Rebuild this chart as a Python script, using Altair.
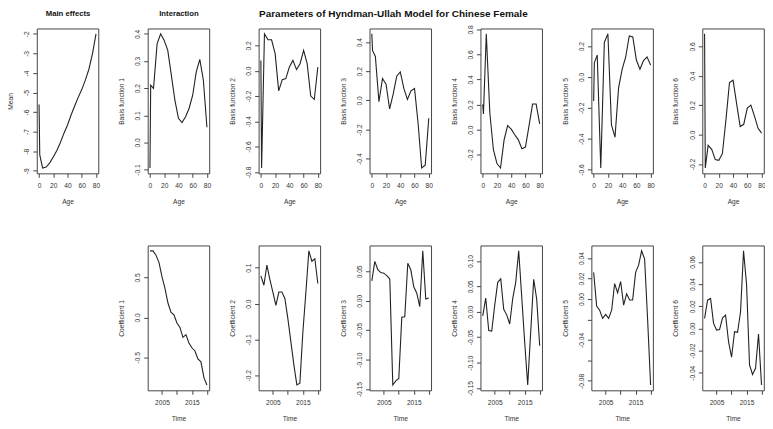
import altair as alt
import pandas as pd

# ---------------- data ----------------
ages = [0, 1, 5, 10, 15, 20, 25, 30, 35, 40, 45, 50, 55, 60, 65, 70, 75, 80]
years = list(range(2001, 2021))

mean_effect = [-5.61, -8.19, -8.86, -8.81, -8.60, -8.30, -7.97, -7.56, -7.08,
               -6.66, -6.15, -5.69, -5.25, -4.85, -4.37, -3.81, -3.02, -2.00]
basis1 = [-0.094, 0.211, 0.199, 0.363, 0.400, 0.376, 0.339, 0.248, 0.156,
          0.089, 0.073, 0.095, 0.126, 0.174, 0.260, 0.306, 0.229, 0.056]
basis2 = [0.082, -0.769, 0.292, 0.245, 0.245, 0.135, -0.159, -0.070, -0.062,
          0.030, 0.082, 0.009, 0.056, 0.161, 0.056, -0.200, -0.227, 0.030]
basis3 = [0.457, 0.343, 0.302, -0.009, 0.150, 0.111, -0.059, 0.043, 0.166,
          0.195, 0.082, 0.007, 0.066, 0.082, -0.157, -0.464, -0.445, -0.123]
basis4 = [0.200, 0.124, 0.765, 0.130, -0.161, -0.272, -0.307, -0.082, 0.032,
          0.003, -0.042, -0.082, -0.153, -0.140, 0.029, 0.204, 0.204, 0.045]
basis5 = [-0.155, 0.094, 0.142, -0.590, 0.224, 0.280, -0.310, -0.390, -0.070,
          0.050, 0.130, 0.267, 0.260, 0.110, 0.050, 0.107, 0.130, 0.077]
basis6 = [0.685, -0.227, -0.073, -0.100, -0.170, -0.175, -0.130, 0.100, 0.354,
          0.370, 0.210, 0.055, 0.070, 0.180, 0.200, 0.127, 0.044, 0.010]

coef1 = [0.834, 0.834, 0.780, 0.690, 0.510, 0.365, 0.180, 0.066, 0.033, -0.070,
         -0.125, -0.250, -0.216, -0.320, -0.380, -0.420, -0.520, -0.556, -0.755, -0.846]
coef2 = [0.077, 0.051, 0.107, 0.067, 0.032, -0.005, 0.032, 0.032, 0.014, -0.042,
         -0.106, -0.171, -0.227, -0.222, -0.080, 0.030, 0.147, 0.118, 0.125, 0.056]
coef3 = [0.034, 0.067, 0.053, 0.048, 0.047, 0.043, 0.037, -0.143, -0.136, -0.132,
         -0.028, -0.027, 0.064, 0.053, 0.024, 0.013, -0.010, 0.085, 0.003, 0.005]
coef4 = [-0.008, 0.027, -0.037, -0.038, 0.013, 0.058, 0.065, 0.005, -0.006, -0.024,
         0.026, 0.058, 0.120, 0.030, -0.060, -0.144, -0.040, 0.064, 0.025, -0.067]
coef5 = [0.026, -0.007, -0.011, -0.019, -0.015, -0.019, -0.011, 0.015, 0.006, 0.017,
         -0.006, 0.005, -0.001, -0.001, 0.026, 0.033, 0.047, 0.039, -0.020, -0.084]
coef6 = [0.009, 0.0255, 0.027, 0.0045, -0.0015, -0.001, 0.0096, 0.012, -0.012, -0.026,
         -0.003, -0.0035, 0.015, 0.070, 0.040, -0.033, -0.0415, -0.036, -0.005, -0.051]

age_ticks = [0, 20, 40, 60, 80]
year_ticks = [2005, 2010, 2015, 2020]
year_labels = [2005, 2015]

main_title = "Parameters of Hyndman-Ullah Model for Chinese Female"

# ---------------- styling ----------------
FONT = "Liberation Sans"
W, H = 62, 146
TXT = "#333333"
LINE = "#222222"
MINUS = "\u2212"


def padded(vals):
    lo, hi = min(vals), max(vals)
    r = hi - lo
    return [lo - 0.04 * r, hi + 0.04 * r]


def fmt_expr(fmt, hide=()):
    base = f"replace(format(datum.value, '{fmt}'), '{MINUS}', '-')"
    if hide:
        cond = " || ".join(f"abs(datum.value - ({h})) < 1e-9" for h in hide)
        return f"({cond}) ? '' : {base}"
    return base


def panel(xvals, yvals, xtitle, xticks, xexpr, ytitle, yticks, yexpr,
          top_title=None, top_size=7.8, top_dx=0.0, top_y=-12.9):
    df = pd.DataFrame({"x": xvals, "y": yvals})
    xscale = alt.Scale(domain=padded(xvals), nice=False, zero=False)
    yscale = alt.Scale(domain=padded(yvals), nice=False, zero=False)
    xaxis = alt.Axis(
        values=xticks, labelExpr=xexpr, title=xtitle, grid=False, domain=False,
        tickSize=4, tickColor="#444444", labelFont=FONT, labelFontSize=6.7,
        labelColor=TXT, labelFlush=False, labelOverlap=False, labelAngle=0,
        labelBaseline="alphabetic", labelAlign="center", labelPadding=10.5,
        titleFont=FONT, titleFontSize=6.7, titleFontWeight="normal", titleColor=TXT,
        titleX=W / 2, titleY=30, titleAlign="center", titleBaseline="alphabetic",
        titleAngle=0,
    )
    yaxis = alt.Axis(
        values=yticks, labelExpr=yexpr, title=ytitle, grid=False, domain=False,
        tickSize=4, tickColor="#444444", labelFont=FONT, labelFontSize=6.7,
        labelColor=TXT, labelFlush=False, labelOverlap=False, labelAngle=270,
        labelBaseline="alphabetic", labelAlign="center", labelPadding=4,
        titleFont=FONT, titleFontSize=6.7, titleFontWeight="normal", titleColor=TXT,
        titleX=-24.5, titleY=H / 2, titleAlign="center", titleBaseline="alphabetic",
        titleAngle=270,
    )
    base = alt.Chart(df).mark_line(color=LINE, strokeWidth=1.1).encode(
        x=alt.X("x:Q", axis=xaxis, scale=xscale),
        y=alt.Y("y:Q", axis=yaxis, scale=yscale),
        order=alt.Order("x:Q"),
    )
    if top_title is None:
        return base.properties(width=W, height=H)
    taxis = alt.Axis(
        orient="top", title=top_title, labels=False, ticks=False, domain=False,
        grid=False, titleFont=FONT, titleFontSize=top_size, titleFontWeight="bold",
        titleColor="#111111", titleX=W / 2 + top_dx, titleY=top_y,
        titleAlign="center", titleBaseline="alphabetic", titleAngle=0,
    )
    ghost = alt.Chart(df).mark_point(opacity=0).encode(
        x=alt.X("x:Q", axis=taxis, scale=xscale),
    )
    return alt.layer(base, ghost).resolve_axis(x="independent").properties(width=W, height=H)


age_expr = "format(datum.value, 'd')"
year_expr = " || ".join(f"datum.value == {y}" for y in year_labels)
year_expr = f"({year_expr}) ? format(datum.value, 'd') : ''"

top = [
    panel(ages, mean_effect, "Age", age_ticks, age_expr, "Mean",
          [-9, -8, -7, -6, -5, -4, -3, -2], fmt_expr("d"), top_title="Main effects"),
    panel(ages, basis1, "Age", age_ticks, age_expr, "Basis function 1",
          [-0.1, 0.0, 0.1, 0.2, 0.3, 0.4], fmt_expr(".1f"), top_title="Interaction"),
    panel(ages, basis2, "Age", age_ticks, age_expr, "Basis function 2",
          [-0.8, -0.6, -0.4, -0.2, 0.0, 0.2], fmt_expr(".1f")),
    panel(ages, basis3, "Age", age_ticks, age_expr, "Basis function 3",
          [-0.4, -0.2, 0.0, 0.2, 0.4], fmt_expr(".1f"),
          top_title=main_title, top_size=10.05, top_dx=-7.5, top_y=-12.0),
    panel(ages, basis4, "Age", age_ticks, age_expr, "Basis function 4",
          [-0.2, 0.0, 0.2, 0.4, 0.6, 0.8], fmt_expr(".1f")),
    panel(ages, basis5, "Age", age_ticks, age_expr, "Basis function 5",
          [-0.6, -0.4, -0.2, 0.0, 0.2], fmt_expr(".1f")),
    panel(ages, basis6, "Age", age_ticks, age_expr, "Basis function 6",
          [-0.2, 0.0, 0.2, 0.4, 0.6], fmt_expr(".1f")),
]

blank = alt.Chart(pd.DataFrame({"a": [0]})).mark_point(opacity=0).encode(
    x=alt.X("a:Q", axis=None), y=alt.Y("a:Q", axis=None)
).properties(width=W, height=H, view=alt.ViewBackground(stroke="transparent"))

bottom = [
    panel(years, coef1, "Time", year_ticks, year_expr, "Coefficient 1",
          [-0.5, 0.0, 0.5], fmt_expr(".1f")),
    panel(years, coef2, "Time", year_ticks, year_expr, "Coefficient 2",
          [-0.2, -0.1, 0.0, 0.1], fmt_expr(".1f")),
    panel(years, coef3, "Time", year_ticks, year_expr, "Coefficient 3",
          [-0.15, -0.10, -0.05, 0.0, 0.05], fmt_expr(".2f")),
    panel(years, coef4, "Time", year_ticks, year_expr, "Coefficient 4",
          [-0.15, -0.10, -0.05, 0.0, 0.05, 0.10], fmt_expr(".2f")),
    panel(years, coef5, "Time", year_ticks, year_expr, "Coefficient 5",
          [-0.08, -0.06, -0.04, -0.02, 0.0, 0.02, 0.04], fmt_expr(".2f", hide=(-0.02, -0.06))),
    panel(years, coef6, "Time", year_ticks, year_expr, "Coefficient 6",
          [-0.04, -0.02, 0.0, 0.02, 0.04, 0.06], fmt_expr(".2f")),
]

chart = alt.concat(*top, blank, *bottom, columns=7).properties(
    spacing={"row": 72.7, "column": 49.8},
    bounds="flush",
    padding={"left": -1, "top": -2, "right": -1, "bottom": 0},
    background="white",
).configure_view(stroke="#444444", strokeWidth=1)

chart.save("out.html", embed_options={"renderer": "svg", "actions": False})
